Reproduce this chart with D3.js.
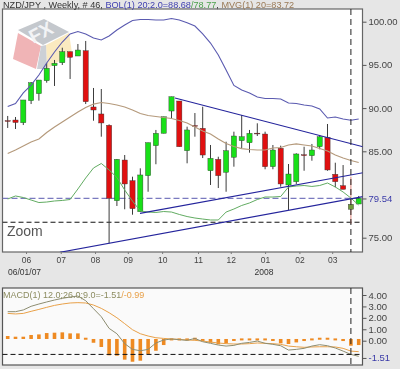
<!DOCTYPE html>
<html>
<head>
<meta charset="utf-8">
<script src="https://cdnjs.cloudflare.com/ajax/libs/d3/7.8.5/d3.min.js"></script>
<style>
  html, body { margin: 0; padding: 0; background: #e6e6e6; }
  svg { display: block; filter: blur(0.4px); }
  text { font-family: "Liberation Sans", Arial, sans-serif; }
</style>
</head>
<body>
<div id="chart"></div>
<script>
// Data
const opens = [88.55,88.62,88.31,90.86,91.67,93.17,94.91,95.25,96.53,96.03,96.64,90.13,89.32,88.01,79.28,83.99,81.60,78.01,82.18,85.65,87.08,89.66,90.82,85.07,87.98,87.66,82.75,84.07,82.57,84.31,86.23,85.99,87.10,87.00,83.22,85.35,81.10,81.48,84.60,84.49,85.53,86.62,82.34,81.02,78.29,78.90];
const highs = [89.09,88.97,90.94,93.02,93.25,95.22,95.57,96.99,96.53,97.42,97.77,92.33,92.21,88.12,84.11,84.57,82.06,83.03,86.00,87.47,89.00,91.32,90.82,87.85,89.43,90.16,85.73,84.37,86.11,87.27,89.20,87.47,88.24,87.27,85.73,85.65,83.53,84.77,85.53,85.85,86.89,88.16,83.68,83.41,82.06,79.83];
const lows = [87.70,87.58,88.04,90.47,90.86,92.94,92.56,94.99,93.37,96.03,90.47,88.54,86.69,74.35,78.67,78.29,77.66,78.01,80.32,83.50,87.08,88.85,85.53,83.61,86.69,84.22,81.10,80.75,80.32,83.22,85.38,84.84,86.77,82.92,82.92,80.90,78.21,81.22,82.75,83.91,85.23,82.75,80.83,80.60,76.59,78.90];
const closes = [88.50,88.33,90.94,92.94,93.25,94.61,95.19,96.53,95.88,96.72,90.74,89.78,88.28,79.56,84.07,81.22,78.36,82.26,86.00,87.08,89.00,91.32,85.53,87.47,87.94,84.57,84.19,82.18,85.07,86.77,86.69,87.08,87.06,83.22,85.15,81.22,82.37,84.69,84.55,85.15,86.69,82.84,81.48,80.60,78.87,79.56];

const bolUpper = [90.19,90.53,91.75,92.67,93.83,95.22,96.49,97.65,98.58,98.87,98.58,98.11,97.88,98.34,99.04,99.62,100.14,100.25,100.25,100.20,100.20,100.37,100.20,99.88,99.50,98.58,97.53,96.15,94.41,92.62,92.09,91.75,91.28,91.11,91.11,91.05,90.59,90.53,90.36,90.24,89.90,88.85,88.97,88.74,88.59,88.74];
const bolLower = [79.48,79.83,79.65,79.36,79.07,79.13,79.25,79.31,79.42,80.64,81.91,83.07,83.59,82.84,81.97,80.52,79.24,78.09,77.97,77.92,78.03,77.97,77.69,77.45,77.28,77.16,77.05,77.05,77.97,78.32,78.73,79.02,79.42,79.71,79.71,79.77,80.87,80.98,81.04,80.93,81.04,81.33,80.87,80.29,79.59,78.78];
const mvg = [84.75,85.15,85.61,86.08,86.42,87.18,87.81,88.39,88.97,89.55,90.07,90.47,90.65,90.53,90.36,90.13,89.78,89.38,89.14,89.03,88.91,88.80,88.56,88.28,87.81,87.35,87.00,86.42,85.90,85.56,85.32,85.21,85.15,85.15,85.38,85.44,85.73,85.85,85.73,85.61,85.32,85.03,84.57,84.22,83.94,83.70];

const macdLine = [2.54,2.54,2.69,3.01,3.21,3.39,3.56,3.71,3.82,3.91,3.50,2.80,2.10,1.08,0.61,-0.26,-0.76,-0.88,-0.76,-0.20,0.06,0.15,0.09,0.03,0.20,-0.09,-0.23,-0.38,-0.47,-0.41,-0.23,-0.15,-0.03,-0.23,-0.32,-0.44,-0.82,-0.76,-0.67,-0.47,-0.35,-0.44,-0.64,-0.91,-1.20,-1.37];
const macdSignal = [2.39,2.34,2.39,2.57,2.74,2.92,3.09,3.21,3.30,3.33,3.30,3.12,2.83,2.45,2.01,1.49,0.96,0.61,0.41,0.26,0.20,0.15,0.12,0.06,0.03,-0.03,-0.12,-0.20,-0.26,-0.29,-0.29,-0.26,-0.20,-0.23,-0.26,-0.32,-0.47,-0.53,-0.58,-0.55,-0.53,-0.53,-0.55,-0.67,-0.91,-0.96];
const macdHist = [0.41,0.35,0.35,0.50,0.55,0.67,0.70,0.73,0.64,0.64,0.26,-0.18,-0.55,-1.28,-1.31,-1.66,-1.84,-1.75,-1.17,-0.88,-0.38,0.20,0.20,0.20,0.26,0.03,-0.18,-0.32,-0.23,0.03,0.20,0.20,0.20,0.20,0.03,-0.23,-0.29,-0.15,-0.03,0.20,0.26,0.26,0.20,-0.03,-0.44,-0.38];
const histBase = 0.15;

// trend lines as [from index, from price, to index, to price]
const trendLines = [
  [21.45, 91.17, 45.55, 85.53],
  [16.96, 77.82, 45.55, 82.52],
  [6.7, 73.31, 45.55, 79.75],
];

const priceTicks = [100, 95, 90, 85, 75];
const macdTicks = [4, 3, 2, 1, 0];
const monthLabels = ['06','07','08','09','10','11','12','01','02','03'];
const monthIndex = [2.35,6.8,11.2,15.4,19.8,24.4,28.6,33,37.4,41.6];
const lastClose = 79.54;
const lastMacd = -1.51;
const crossPrice = 76.79;
const crossMacd = -1.2;
const crossIndex = 44;

// Dimensions
const dimensions = { width: 400, height: 369, left: 2.5, right: 362.5, top: 9, bottom: 252, macdTop: 288, macdBottom: 365 };

const svg = d3.select('#chart')
  .append('svg')
  .attr('width', dimensions.width)
  .attr('height', dimensions.height);

// Scales
const xScale = d3.scaleLinear().domain([0, 45]).range([7.7, 358.7]);
const yScale = d3.scaleLinear().domain([100, 75]).range([21.7, 237.7]);
const macdScale = d3.scaleLinear().domain([4, 0]).range([295, 340.7]);

// Panels
svg.append('rect')
  .attr('x', dimensions.left).attr('y', dimensions.top)
  .attr('width', dimensions.right - dimensions.left)
  .attr('height', dimensions.bottom - dimensions.top)
  .attr('fill', '#fff').attr('stroke', '#666').attr('stroke-width', 1.2);

svg.append('rect')
  .attr('x', dimensions.left).attr('y', dimensions.macdTop)
  .attr('width', dimensions.right - dimensions.left)
  .attr('height', dimensions.macdBottom - dimensions.macdTop)
  .attr('fill', '#fafafa').attr('stroke', '#555').attr('stroke-width', 1.2);

svg.append('clipPath').attr('id', 'plot').append('rect')
  .attr('x', dimensions.left).attr('y', dimensions.top)
  .attr('width', dimensions.right - dimensions.left)
  .attr('height', dimensions.bottom - dimensions.top);

// FX logo behind the candles
const logo = svg.append('g');
logo.append('polygon').attr('points', '18,33 41,46 36,69 13,59').attr('fill', '#f0b4b6');
logo.append('polygon').attr('points', '46,45 69,33 72,53 47,69').attr('fill', '#fbeac0');
logo.append('polygon').attr('points', '41,46 46,45 47,69 37,69').attr('fill', '#ccd0d6');
logo.append('polygon').attr('points', '18,30 44,19 69,32 43,45').attr('fill', '#c4c8cd');
logo.append('text')
  .attr('transform', 'translate(44,38) rotate(-28)')
  .attr('text-anchor', 'middle')
  .attr('font-size', 19).attr('font-weight', 'bold')
  .attr('fill', '#f2f3f5')
  .text('FX');

const ctr = svg.append('g').attr('clip-path', 'url(#plot)');

// horizontal lines
ctr.append('line')
  .attr('x1', dimensions.left).attr('x2', dimensions.right)
  .attr('y1', yScale(lastClose)).attr('y2', yScale(lastClose))
  .attr('stroke', '#7a7abf').attr('stroke-width', 1.2).attr('stroke-dasharray', '6,3');
ctr.append('line')
  .attr('x1', dimensions.left).attr('x2', dimensions.right)
  .attr('y1', yScale(crossPrice)).attr('y2', yScale(crossPrice))
  .attr('stroke', '#111').attr('stroke-dasharray', '5,3');

// Candles
const candles = d3.range(opens.length);
const isUp = i => closes[i] >= opens[i];

ctr.append('g').selectAll('line')
  .data(candles)
  .join('line')
  .attr('x1', i => xScale(i)).attr('x2', i => xScale(i))
  .attr('y1', i => yScale(highs[i])).attr('y2', i => yScale(lows[i]))
  .attr('stroke', i => i === crossIndex ? '#e08a80' : '#3c3c3c')
  .attr('stroke-width', 1);

ctr.append('g').selectAll('rect')
  .data(candles)
  .join('rect')
  .attr('x', i => xScale(i) - 2.6)
  .attr('width', 5.2)
  .attr('y', i => yScale(Math.max(opens[i], closes[i])))
  .attr('height', i => Math.max(0.8, Math.abs(yScale(opens[i]) - yScale(closes[i]))))
  .attr('fill', i => i === crossIndex ? '#6f9a3c' : isUp(i) ? '#18e018' : '#e01010')
  .attr('stroke', '#333')
  .attr('stroke-width', 0.4);

// Indicator lines
const priceLine = d3.line()
  .x((d, i) => xScale(i))
  .y(d => yScale(d));

ctr.append('path').datum(mvg)
  .attr('d', priceLine)
  .attr('fill', 'none').attr('stroke', '#b59a7c').attr('stroke-width', 1.2);
ctr.append('path').datum(bolUpper)
  .attr('d', priceLine)
  .attr('fill', 'none').attr('stroke', '#5a5ab0').attr('stroke-width', 1.1);
ctr.append('path').datum(bolLower)
  .attr('d', priceLine)
  .attr('fill', 'none').attr('stroke', '#62ac62').attr('stroke-width', 1);

// trend lines
ctr.append('g').selectAll('line')
  .data(trendLines)
  .join('line')
  .attr('x1', d => xScale(d[0])).attr('y1', d => yScale(d[1]))
  .attr('x2', d => xScale(d[2])).attr('y2', d => yScale(d[3]))
  .attr('stroke', '#24249c').attr('stroke-width', 1.1);

// crosshair
svg.append('line')
  .attr('x1', xScale(crossIndex)).attr('x2', xScale(crossIndex))
  .attr('y1', dimensions.top).attr('y2', dimensions.bottom)
  .attr('stroke', '#222').attr('stroke-dasharray', '6,4');

svg.append('text')
  .attr('x', 7).attr('y', 236)
  .attr('font-size', 14).attr('fill', '#555')
  .text('Zoom');

// Price axis
const yAxis = d3.axisRight(yScale)
  .tickValues(priceTicks.concat([lastClose]))
  .tickSize(4)
  .tickFormat(d => d.toFixed(2));

const yAxisGroup = svg.append('g')
  .attr('transform', `translate(${dimensions.right},0)`)
  .call(yAxis);
yAxisGroup.select('.domain').remove();
yAxisGroup.selectAll('text')
  .attr('x', 6)
  .attr('font-size', 9.5)
  .attr('fill', d => d === lastClose ? '#3a3aa8' : '#444');
yAxisGroup.selectAll('line').attr('stroke', '#555');

// Time axis
const xAxis = d3.axisBottom(xScale)
  .tickValues(monthIndex)
  .tickSize(2)
  .tickFormat((d, i) => monthLabels[i]);

const xAxisGroup = svg.append('g')
  .attr('transform', `translate(0,${dimensions.bottom})`)
  .call(xAxis);
xAxisGroup.select('.domain').remove();
xAxisGroup.selectAll('line').attr('stroke', '#777');
xAxisGroup.selectAll('text')
  .attr('y', 5)
  .attr('font-size', 8.5)
  .attr('fill', '#444');

svg.append('text').attr('x', 8).attr('y', 275)
  .attr('font-size', 8.5).attr('fill', '#333').text('06/01/07');
svg.append('text').attr('x', 264).attr('y', 275)
  .attr('text-anchor', 'middle')
  .attr('font-size', 8.5).attr('fill', '#333').text('2008');

// Title
const title = svg.append('text')
  .attr('x', 3).attr('y', 8)
  .attr('font-size', 9.15).attr('fill', '#333');
title.append('tspan').text('NZD/JPY , Weekly, # 46, ');
title.append('tspan').attr('fill', '#4040b0').text('BOL(1) 20;2.0=88.68');
title.append('tspan').attr('fill', '#4aa04a').text('/78.77');
title.append('tspan').attr('fill', '#333').text(', ');
title.append('tspan').attr('fill', '#9a7a56').text('MVG(1) 20=83.72');

// MACD panel
svg.append('g').selectAll('rect')
  .data(macdHist)
  .join('rect')
  .attr('x', (d, i) => xScale(i) - 1.8)
  .attr('width', 3.6)
  .attr('y', d => Math.min(macdScale(d), macdScale(histBase)))
  .attr('height', d => Math.max(2, Math.abs(macdScale(d) - macdScale(histBase))))
  .attr('fill', '#ee8a22');

const macdPath = d3.line()
  .x((d, i) => xScale(i))
  .y(d => macdScale(d));

svg.append('path').datum(macdSignal)
  .attr('d', macdPath)
  .attr('fill', 'none').attr('stroke', '#e8a048').attr('stroke-width', 1);
svg.append('path').datum(macdLine)
  .attr('d', macdPath)
  .attr('fill', 'none').attr('stroke', '#8c8c70').attr('stroke-width', 1);

svg.append('line')
  .attr('x1', dimensions.left).attr('x2', dimensions.right)
  .attr('y1', macdScale(crossMacd)).attr('y2', macdScale(crossMacd))
  .attr('stroke', '#111').attr('stroke-dasharray', '5,3');
svg.append('line')
  .attr('x1', xScale(crossIndex)).attr('x2', xScale(crossIndex))
  .attr('y1', dimensions.macdTop).attr('y2', dimensions.macdBottom)
  .attr('stroke', '#222').attr('stroke-dasharray', '6,4');

const macdLabel = svg.append('text')
  .attr('x', 3).attr('y', 298)
  .attr('font-size', 9).attr('fill', '#8c8c60');
macdLabel.append('tspan').text('MACD(1) 12.0;26.0;9.0=-1.51');
macdLabel.append('tspan').attr('fill', '#e8a048').text('/-0.99');

const macdAxis = d3.axisRight(macdScale)
  .tickValues(macdTicks.concat([lastMacd]))
  .tickSize(4)
  .tickFormat(d => d.toFixed(2));

const macdAxisGroup = svg.append('g')
  .attr('transform', `translate(${dimensions.right},0)`)
  .call(macdAxis);
macdAxisGroup.select('.domain').remove();
macdAxisGroup.selectAll('line').attr('stroke', '#555');
macdAxisGroup.selectAll('text')
  .attr('x', 6)
  .attr('font-size', 9.5)
  .attr('fill', d => d === lastMacd ? '#3a3aa8' : '#444');
</script>
</body>
</html>
